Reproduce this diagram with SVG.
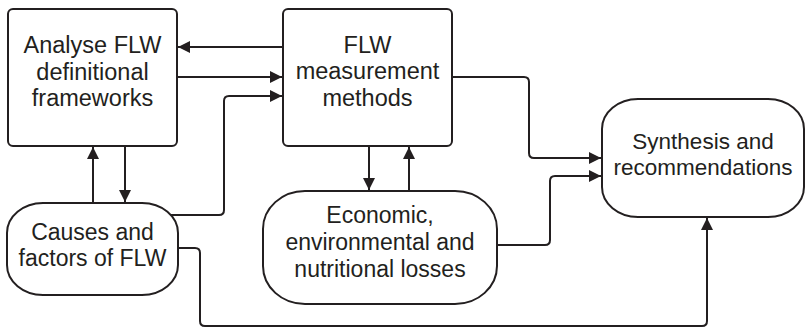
<svg xmlns="http://www.w3.org/2000/svg" width="807" height="330" viewBox="0 0 807 330">
<defs>
<marker id="ah" markerWidth="12" markerHeight="12" refX="12" refY="6" orient="auto" markerUnits="userSpaceOnUse">
<path d="M0,0 L12,6 L0,12 Z" fill="#231f20"/>
</marker>
<style>
.box{fill:#fff;stroke:#231f20;stroke-width:2}
.c{fill:none;stroke:#231f20;stroke-width:2}
.a{marker-end:url(#ah)}
text{font-family:"Liberation Sans",Arial,sans-serif;font-size:23.5px;fill:#231f20;text-anchor:middle}
.s{font-size:22.5px}
.m{font-size:23px}
</style>
</defs>
<rect width="807" height="330" fill="#fff"/>
<g id="connectors">
<path class="c a" d="M283,47 H178"/>
<path class="c a" d="M177,77 H282"/>
<path class="c a" d="M167,215 H219 Q224,215 224,210 V101 Q224,96 229,96 H282"/>
<path class="c a" d="M93,203 V147"/>
<path class="c a" d="M125,146 V202"/>
<path class="c a" d="M369,146 V190"/>
<path class="c a" d="M409,191 V147"/>
<path class="c a" d="M452,77 H524 Q529,77 529,82 V153 Q529,158 534,158 H601"/>
<path class="c a" d="M497,245 H545 Q550,245 550,240 V181 Q550,176 555,176 H601"/>
<path class="c a" d="M178,248 H195 Q200,248 200,253 V321 Q200,326 205,326 H702 Q707,326 707,321 V218"/>
</g>
<g id="n1">
<rect class="box" x="8" y="9" width="169" height="137" rx="5"/>
<text x="92.5" y="53">Analyse FLW</text>
<text x="92.5" y="80">definitional</text>
<text x="92.5" y="106">frameworks</text>
</g>
<g id="n2">
<rect class="box" x="283" y="9" width="169" height="137" rx="5"/>
<text x="367.5" y="53">FLW</text>
<text x="367.5" y="79">measurement</text>
<text x="367.5" y="106">methods</text>
</g>
<g id="n3">
<rect class="box" x="7" y="203" width="171" height="92" rx="36" ry="30"/>
<text class="m" x="92.5" y="240">Causes and</text>
<text class="m" x="92.5" y="266">factors of FLW</text>
</g>
<g id="n4">
<rect class="box" x="263" y="191" width="234" height="113" rx="42" ry="38"/>
<text class="m" x="380" y="223">Economic,</text>
<text class="m" x="380" y="250">environmental and</text>
<text class="m" x="380" y="277">nutritional losses</text>
</g>
<g id="n5">
<rect class="box" x="602" y="99" width="202" height="118" rx="36" ry="30"/>
<text class="s" x="703" y="149">Synthesis and</text>
<text class="s" x="703" y="175">recommendations</text>
</g>
</svg>
